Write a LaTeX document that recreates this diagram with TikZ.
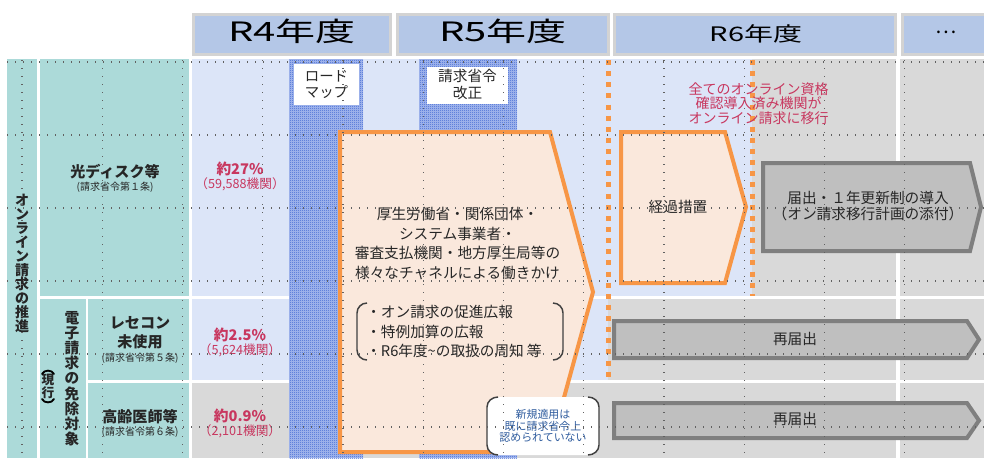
\documentclass[tikz,border=0pt]{standalone}
\usepackage{fontspec}
\setmainfont{Noto Sans CJK JP}
\usetikzlibrary{patterns}
\definecolor{hdrfill}{HTML}{B4C7E7}
\definecolor{hdrline}{HTML}{D3D3D3}
\definecolor{cteal}{HTML}{ACDAD9}
\definecolor{clblue}{HTML}{DCE5F8}
\definecolor{cgray}{HTML}{D9D9D9}
\definecolor{patbase}{HTML}{A9BCEE}
\definecolor{patblue}{HTML}{3A62D2}
\definecolor{corange}{HTML}{F79646}
\definecolor{cpeach}{HTML}{FAE8DC}
\definecolor{garrow}{HTML}{BFBFBF}
\definecolor{gedge}{HTML}{7F7F7F}
\definecolor{ccrimson}{HTML}{C8375F}
\definecolor{cnote}{HTML}{2F5C9E}
\definecolor{ctext}{HTML}{262626}
\pgfdeclarepatternformonly{finecheck}{\pgfpointorigin}{\pgfqpoint{1.5pt}{1.5pt}}{\pgfqpoint{1.5pt}{1.5pt}}{%
  \pgfpathrectangle{\pgfpointorigin}{\pgfqpoint{0.75pt}{0.75pt}}%
  \pgfpathrectangle{\pgfqpoint{0.75pt}{0.75pt}}{\pgfqpoint{0.75pt}{0.75pt}}%
  \pgfusepath{fill}}
\begin{document}
\begin{tikzpicture}[x=0.75pt,y=-0.75pt,
  hdrbox/.style={fill=hdrfill,draw=hdrline,line width=2.25pt},
  gridline/.style={draw=black!62,line width=0.8pt,dash pattern=on 0.8pt off 5.2pt},
  odash/.style={draw=corange,line width=3.75pt,dash pattern=on 3.75pt off 4.6pt},
  obox/.style={fill=cpeach,draw=corange,line width=3pt,line join=miter},
  gbox/.style={fill=garrow,draw=gedge,line width=3pt,line join=miter},
  brk/.style={draw=black!75,line width=1.1pt},
  vparen/.style={draw=black,line width=1.4pt,line cap=round},
  txt/.style={inner sep=0pt,align=center,text=ctext},
  body/.style={txt,font=\fontsize{11}{14.7}\selectfont},
  vtext/.style={txt,font=\bfseries\fontsize{10.5}{10.5}\selectfont},
  rowhead/.style={txt,font=\bfseries\fontsize{11.3}{14.2}\selectfont},
  smallref/.style={txt,font=\fontsize{7.5}{9}\selectfont},
  pct/.style={txt,text=ccrimson,font=\bfseries\fontsize{11}{13}\selectfont},
  cnt/.style={txt,text=ccrimson,font=\fontsize{9.5}{11}\selectfont},
  yearbig/.style={txt,text=black,font=\fontsize{20}{24}\selectfont},
  yearsmall/.style={txt,text=black,font=\fontsize{15}{18}\selectfont}
]
\useasboundingbox (0,0) rectangle (984,458);
% header
\draw[hdrbox] (193.1,14.1) rectangle (390.9,54.9);
\draw[hdrbox] (397.1,14.1) rectangle (608.9,54.9);
\draw[hdrbox] (614.1,14.1) rectangle (895.9,54.9);
\draw[hdrbox] (902.1,14.1) rectangle (990,54.9);
\node[yearbig] (h4) at (292,31.5) {\scalebox{1.5}[1]{R4年度}};
\node[yearbig] (h5) at (503,31.5) {\scalebox{1.5}[1]{R5年度}};
\node[yearsmall] (h6) at (756,34) {\scalebox{1.45}[1]{R6年度}};
\node[yearsmall] (hx) at (946,32) {…};
% body backgrounds
\fill[cteal] (7,59) rectangle (37,458);
\fill[cteal] (40,59) rectangle (189,296);
\fill[cteal] (40,299) rectangle (86,458);
\fill[cteal] (88,299) rectangle (189,380);
\fill[cteal] (88,383) rectangle (189,458);
\fill[clblue] (192,59) rectangle (752,296);
\fill[cgray] (752,59) rectangle (896,296);
\fill[cgray] (900,59) rectangle (984,296);
\fill[clblue] (192,299) rectangle (608,380);
\fill[cgray] (608,299) rectangle (896,380);
\fill[cgray] (900,299) rectangle (984,380);
\fill[cgray] (192,383) rectangle (896,458);
\fill[cgray] (900,383) rectangle (984,458);
% patterned columns
\fill[patbase] (289,59) rectangle (363,458);
\fill[pattern=finecheck,pattern color=patblue] (289,59) rectangle (363,458);
\fill[patbase] (419,59) rectangle (517,458);
\fill[pattern=finecheck,pattern color=patblue] (419,59) rectangle (517,458);
\fill[white] (294,64) rectangle (359,105);
\fill[white] (427,67) rectangle (508,104);
\node[txt,font=\fontsize{10.8}{12}\selectfont] (road) at (326.5,84.5) {ロード\\マップ};
\node[txt,font=\fontsize{11}{12.8}\selectfont] (kaisei) at (467.5,84.5) {請求省令\\改正};
% orange dashed lines
\draw[odash] (608,60) -- (608,378);
\draw[odash] (752,60) -- (752,296);
% red label
\node[txt,text=ccrimson,font=\fontsize{10.5}{10.9}\selectfont] (allonline) at (758.5,103.5) {全てのオンライン資格\\確認導入済み機関が\\オンライン請求に移行};
% orange boxes
\draw[obox] (340,132) -- (550,132) -- (593,292) -- (549,452) -- (340,452) -- cycle;
\draw[obox] (621,132) -- (725,132) -- (746,207) -- (725,283) -- (621,283) -- cycle;
% gray arrows
\draw[gbox] (763,163) -- (970,163) -- (981,207) -- (970,251) -- (763,251) -- cycle;
\draw[gbox] (614,321) -- (967,321) -- (979,339.5) -- (967,358) -- (614,358) -- cycle;
\draw[gbox] (614,403) -- (967,403) -- (979,420.5) -- (967,438) -- (614,438) -- cycle;
% brackets around bullet list
\draw[brk] (367,303) to[out=180,in=90] (357,313) -- (357,350) to[out=-90,in=180] (367,360);
\draw[brk] (553,303) to[out=0,in=90] (563,313) -- (563,350) to[out=-90,in=0] (553,360);
% note box
\fill[white,rounded corners=7pt] (487,397) rectangle (599,455);
\draw[brk] (498,397) to[out=180,in=90] (487,407) -- (487,445) to[out=-90,in=180] (498,455);
\draw[brk] (588,397) to[out=0,in=90] (599,407) -- (599,445) to[out=-90,in=0] (588,455);
% left column texts
\node[vtext] (suishin) at (22,263) {オ\\ン\\ラ\\イ\\ン\\請\\求\\の\\推\\進};
\node[txt,font=\bfseries\fontsize{11}{11.4}\selectfont] (menjo) at (72,378.5) {電\\子\\請\\求\\の\\免\\除\\対\\象};
\node[txt,font=\bfseries\fontsize{9.5}{9.8}\selectfont] (genko) at (48,386.5) {現\\行};
\draw[vparen] (42,374) .. controls (44,369.5) and (52,369.5) .. (54,374);
\draw[vparen] (42,399) .. controls (44,403.5) and (52,403.5) .. (54,399);
\node[rowhead] (hikari) at (115,172) {光ディスク等};
\node[smallref] (art1) at (115,187) {(請求省令第１条)};
\node[rowhead] (rececon) at (140,332.5) {レセコン\\未使用};
\node[smallref] (art5) at (140,358) {(請求省令第５条)};
\node[rowhead] (koreii) at (140,417) {高齢医師等};
\node[smallref] (art6) at (140,432) {(請求省令第６条)};
\node[pct] (p1) at (240,169) {約27\%};
\node[cnt] (c1) at (240,184) {（59,588機関）};
\node[pct] (p2) at (240,335) {約2.5\%};
\node[cnt] (c2) at (240,350) {（5,624機関）};
\node[pct] (p3) at (240,416) {約0.9\%};
\node[cnt] (c3) at (240,431) {（2,101機関）};
% body texts
\node[body] (hataraki) at (457.5,243.5) {厚生労働省・関係団体・\\システム事業者・\\審査支払機関・地方厚生局等の\\様々なチャネルによる働きかけ};
\node[body,anchor=west,align=left] (bullets) at (366,331.5) {・オン請求の促進広報\\・特例加算の広報\\・R6年度\textasciitilde の取扱の周知 等};
\node[txt,text=cnote,font=\fontsize{8.2}{8.8}\selectfont] (note) at (543,426) {新規適用は\\既に請求省令上\\認められていない};
\node[body] (keika) at (678,207) {経過措置};
\node[txt,font=\fontsize{11}{12}\selectfont] (todoke) at (868,206) {届出・１年更新制の導入\\（オン請求移行計画の添付）};
\node[body] (sai1) at (795,339) {再届出};
\node[body] (sai2) at (795,419) {再届出};
% dotted grid on top
\foreach \k in {0,...,12} {
  \draw[gridline] ({22+80.25*\k},60) -- ({22+80.25*\k},458);
}
\foreach \k in {0,...,5} {
  \draw[gridline] (7,{62+73*\k}) -- (984,{62+73*\k});
}
\end{tikzpicture}
\end{document}
